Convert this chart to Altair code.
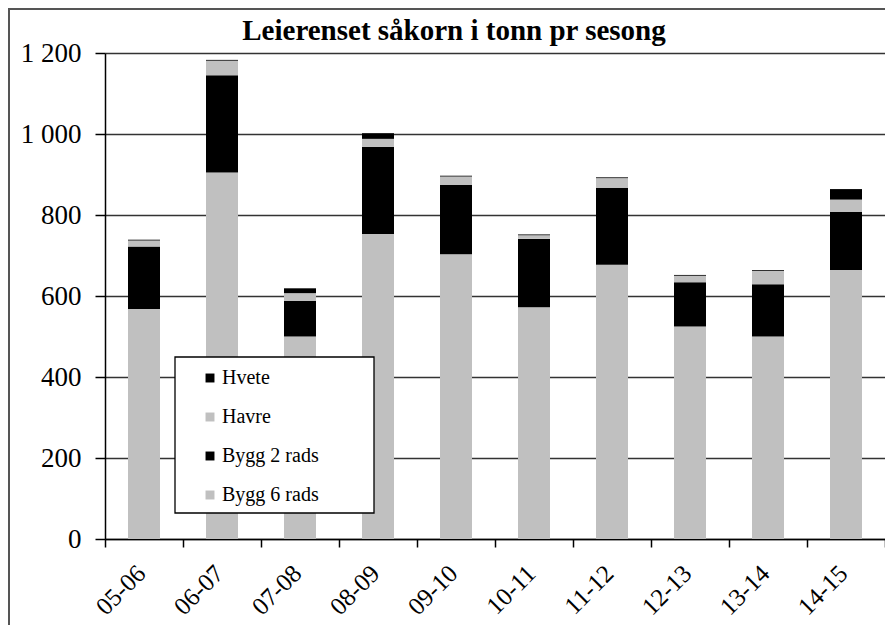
import altair as alt
import pandas as pd

seasons = ["05-06", "06-07", "07-08", "08-09", "09-10", "10-11", "11-12", "12-13", "13-14", "14-15"]
bygg6 = [568, 905, 500, 753, 703, 572, 677, 525, 500, 664]
bygg2 = [154, 240, 88, 215, 171, 169, 190, 109, 129, 144]
havre = [15, 36, 19, 20, 21, 9, 24, 16, 33, 30]
hvete = [2, 2, 12, 14, 2, 2, 2, 2, 2, 26]

series_names = ["Hvete", "Havre", "Bygg 2 rads", "Bygg 6 rads"]
series_colors = ["#000000", "#C0C0C0", "#000000", "#C0C0C0"]
title_text = "Leierenset såkorn i tonn pr sesong"

rows = []
for name, vals, order in [("Bygg 6 rads", bygg6, 0), ("Bygg 2 rads", bygg2, 1),
                          ("Havre", havre, 2), ("Hvete", hvete, 3)]:
    for s, v in zip(seasons, vals):
        rows.append({"season": s, "series": name, "value": v, "o": order})
df = pd.DataFrame(rows)

FONT = "Liberation Serif"

bars = alt.Chart(df).mark_bar(size=32).encode(
    x=alt.X("season:N", sort=seasons, title=None,
            scale=alt.Scale(paddingInner=0, paddingOuter=0),
            axis=alt.Axis(labelAngle=-45, labelAlign="right", labelBaseline="middle",
                          labelFont=FONT, labelFontSize=25, labelColor="#000",
                          tickBand="extent", tickSize=8, tickColor="#000", domainColor="#000",
                          domainWidth=1.5, tickWidth=1.5, labelPadding=22, labelOffset=-3)),
    y=alt.Y("value:Q", stack="zero", title=None,
            scale=alt.Scale(domain=[0, 1200], nice=False),
            axis=alt.Axis(values=[0, 200, 400, 600, 800, 1000, 1200],
                          labelExpr="replace(format(datum.value, ','), ',', ' ')",
                          labelFont=FONT, labelFontSize=27, labelColor="#000",
                          tickSize=10, tickColor="#000", tickWidth=1.5,
                          domainColor="#000", domainWidth=1.5, labelPadding=14,
                          grid=True, gridColor="#333", gridWidth=1.5)),
    color=alt.Color("series:N", scale=alt.Scale(domain=series_names, range=series_colors),
                    legend=alt.Legend(title=None, orient="none", legendX=95, legendY=315,
                                      symbolType="square", symbolSize=80, symbolStrokeWidth=0,
                                      labelFont=FONT, labelFontSize=20, labelColor="#000",
                                      rowPadding=19, labelOffset=2, padding=0)),
    order=alt.Order("o:Q", sort="ascending"),
)

aux = pd.DataFrame({"t": [title_text]})

box = alt.Chart(aux).mark_rect(fill="white", stroke="black", strokeWidth=1.3).encode(
    x=alt.value(70), x2=alt.value(269), y=alt.value(304), y2=alt.value(460))

title = alt.Chart(aux).mark_text(font=FONT, fontSize=29, fontWeight="bold", color="#000",
                                 baseline="middle", align="center").encode(
    text="t:N", x=alt.value(349), y=alt.value(-22))

left_border = alt.Chart(aux).mark_rule(color="#555", strokeWidth=2).encode(
    x=alt.value(-96), y=alt.value(-45), y2=alt.value(580))
top_border = alt.Chart(aux).mark_rule(color="#555", strokeWidth=2).encode(
    x=alt.value(-96), x2=alt.value(790), y=alt.value(-44))

chart = alt.layer(bars, box, title, left_border, top_border).properties(
    width=780, height=486,
    autosize=alt.AutoSizeParams(type="none"),
    padding={"left": 97, "top": 45, "right": 0, "bottom": 86},
).configure_view(stroke=None).configure(background="white")

chart.save("out.html", embed_options={"renderer": "svg", "actions": False})
